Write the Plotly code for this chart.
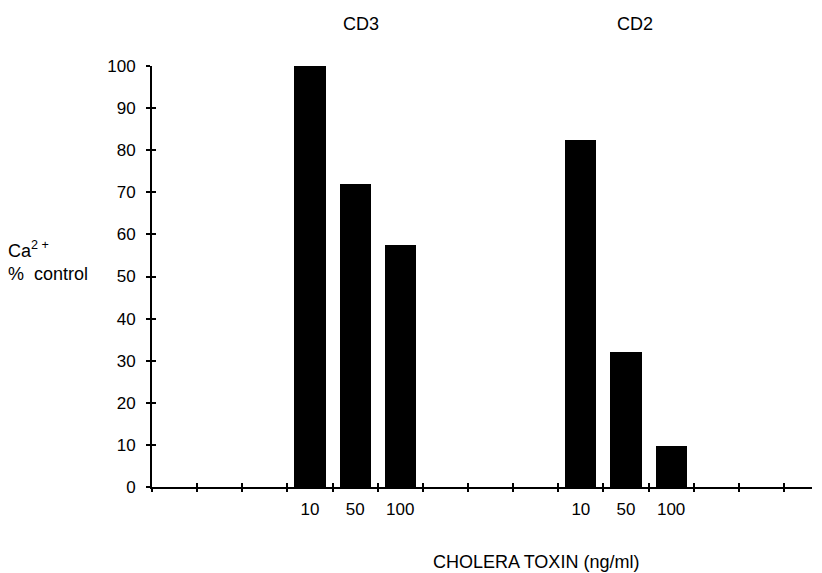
import plotly.graph_objects as go

# Data
positions = [3, 4, 5, 9, 10, 11]          # slot index of each bar along the x axis
dose_labels = ["10", "50", "100", "10", "50", "100"]
values = [100, 72, 57.5, 82.5, 32, 9.7]
groups = ["CD3", "CD2"]
group_label_pos = [4.13, 10.2]
y_ticks = [0, 10, 20, 30, 40, 50, 60, 70, 80, 90, 100]
slot_bounds = [i + 0.5 for i in range(-1, 14)]

FONT = "Liberation Sans, Arial, sans-serif"
XR = [-0.5, 14.12]
ML, MR, MT, MB = 144, 18, 58, 94
PW = 822 - ML - MR
PH = 573 - MT - MB

fig = go.Figure()
fig.add_trace(go.Bar(x=positions, y=values, width=0.69,
                     marker=dict(color="black", line=dict(width=0)),
                     showlegend=False))

fig.update_layout(
    width=822, height=573,
    margin=dict(l=ML, r=MR, t=MT, b=MB),
    plot_bgcolor="white", paper_bgcolor="white",
    font=dict(family=FONT, size=17, color="black"),
    bargap=0,
    xaxis=dict(range=XR, tickvals=positions, ticktext=dose_labels,
               ticks="", showline=True, linecolor="black", linewidth=2,
               showgrid=False, zeroline=False, ticklabelstandoff=6,
               tickfont=dict(size=17)),
    xaxis2=dict(range=XR, overlaying="x", anchor="y", side="bottom",
                tickvals=slot_bounds, showticklabels=False, ticks="outside",
                ticklen=4, tickwidth=2, tickcolor="black",
                showline=False, showgrid=False, zeroline=False),
    xaxis3=dict(range=XR, overlaying="x", anchor="y", side="bottom",
                tickvals=slot_bounds, showticklabels=False, ticks="inside",
                ticklen=4, tickwidth=2, tickcolor="black",
                showline=False, showgrid=False, zeroline=False),
    yaxis=dict(range=[0, 100], tickvals=y_ticks, ticks="outside", ticklen=4,
               tickwidth=2, tickcolor="black", showline=True, linecolor="black",
               linewidth=2, showgrid=False, zeroline=False,
               ticklabelstandoff=7, tickfont=dict(size=17)),
    yaxis2=dict(range=[0, 100], overlaying="y", anchor="x", side="left",
                tickvals=y_ticks, ticks="inside", ticklen=4, tickwidth=2,
                tickcolor="black", showticklabels=False, showline=False,
                showgrid=False, zeroline=False),
)

# empty traces to activate the overlay tick axes
fig.add_trace(go.Scatter(x=[None], y=[None], xaxis="x2", yaxis="y", showlegend=False))
fig.add_trace(go.Scatter(x=[None], y=[None], xaxis="x3", yaxis="y", showlegend=False))
fig.add_trace(go.Scatter(x=[None], y=[None], xaxis="x", yaxis="y2", showlegend=False))

for g, gx in zip(groups, group_label_pos):
    fig.add_annotation(x=gx, xref="x", y=1 + (MT - 15.5) / PH,
                       yref="paper", text=g, showarrow=False,
                       font=dict(size=18), yanchor="middle")

fig.add_annotation(x=-(ML + 2) / PW, xref="paper", y=(573 - MB - 253) / PH, yref="paper",
                   text="Ca<sup>2 +</sup><br>%&nbsp; control", showarrow=False,
                   xanchor="left", yanchor="middle", align="left",
                   font=dict(size=18))
fig.add_annotation(x=(536 - 8 - ML) / PW, xref="paper", y=-(554 - (573 - MB)) / PH,
                   yref="paper", text="CHOLERA TOXIN (ng/ml)", showarrow=False,
                   yanchor="middle", font=dict(size=18))

fig.write_html("out.html")
